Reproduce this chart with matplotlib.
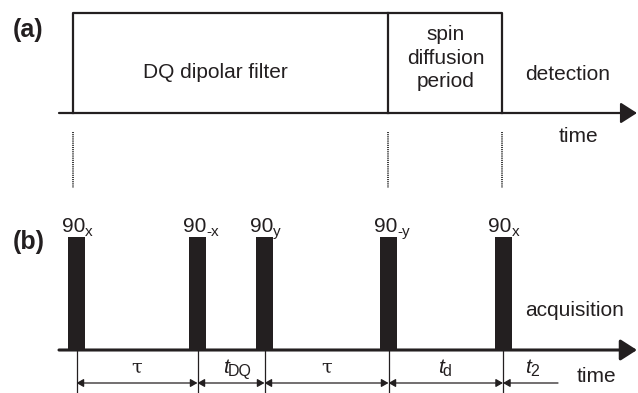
import matplotlib
matplotlib.use("Agg")
import matplotlib.pyplot as plt

plt.rcParams['font.family'] = ['Liberation Sans', 'DejaVu Sans']

INK = '#231f20'

# (a) period boundaries along the time axis
period_edges = [73, 388, 502]
period_labels = ['DQ dipolar filter', 'spin\ndiffusion\nperiod']
period_label_x = [215, 446]

# (b) pulse positions (centres) and phase subscripts
pulse_times = [76.5, 197.5, 264.5, 388.5, 503]
pulse_phases = ['x', '-x', 'y', '-y', 'x']
pulse_width = 17

# (b) delays between pulses: (main symbol, subscript)
delay_labels = [('τ', ''), ('t', 'DQ'), ('τ', ''), ('t', 'd')]
acq_end = 558

# vertical layout
a_top, a_base = 13, 113
b_top, b_base = 237, 350
dim_y = 383
axis_start, axis_end = 59, 637

fig = plt.figure(figsize=(6.38, 3.93), dpi=100)
ax = fig.add_axes([0, 0, 1, 1])
ax.set_xlim(0, 638)
ax.set_ylim(393, 0)
ax.axis('off')


def time_axis(y, lw):
    ax.annotate('', xy=(axis_end, y), xytext=(axis_start, y),
                arrowprops=dict(arrowstyle='-|>,head_length=0.5,head_width=0.32',
                                mutation_scale=20, lw=lw, color=INK,
                                shrinkA=0, shrinkB=0))


# ---- (a) block diagram ----
time_axis(a_base, 1.6)
ax.plot([period_edges[0], period_edges[0], period_edges[-1], period_edges[-1]],
        [a_base, a_top, a_top, a_base], color=INK, lw=1.6)
for xe in period_edges[1:-1]:
    ax.plot([xe, xe], [a_top, a_base], color=INK, lw=1.6)
for lab, xl in zip(period_labels, period_label_x):
    ax.text(xl, 58 if '\n' in lab else 72, lab, ha='center', va='center',
            fontsize=15, color=INK, linespacing=1.3)
ax.text(568, 74, 'detection', ha='center', va='center', fontsize=15, color=INK)
ax.text(578, 136, 'time', ha='center', va='center', fontsize=15, color=INK)

# dotted guides linking the two schemes
for xe in period_edges:
    ax.plot([xe, xe], [132, 188], color='#000000', lw=1.1, ls=(0, (0.7, 0.7)))

ax.text(13, 30, '(a)', ha='left', va='center', fontsize=18, fontweight='bold', color=INK)
ax.text(13, 242, '(b)', ha='left', va='center', fontsize=18, fontweight='bold', color=INK)

# ---- (b) pulse sequence ----
time_axis(b_base, 2.2)
for t, ph in zip(pulse_times, pulse_phases):
    ax.bar(t, b_base - b_top, width=pulse_width, bottom=b_top, color=INK,
           edgecolor='none', zorder=3)
    right = t + pulse_width / 2
    ax.text(right, 232, '90', ha='right', va='baseline', fontsize=15, color=INK)
    ax.text(right, 236, ph, ha='left', va='baseline', fontsize=11, color=INK)
    ax.plot([t, t], [b_base, 393], color=INK, lw=0.9)

ax.text(575, 310, 'acquisition', ha='center', va='center', fontsize=15, color=INK)
ax.text(596, 377, 'time', ha='center', va='center', fontsize=15, color=INK)

dim_style = dict(arrowstyle='<|-|>,head_length=0.35,head_width=0.2',
                 mutation_scale=12, lw=0.9, color=INK, shrinkA=0, shrinkB=0)
for (sym, sub), t0, t1 in zip(delay_labels, pulse_times[:-1], pulse_times[1:]):
    ax.annotate('', xy=(t1, dim_y), xytext=(t0, dim_y), arrowprops=dim_style)
    xm = (t0 + t1) / 2
    if sub:
        ax.text(xm - 2, 373, sym, ha='right', va='baseline', fontsize=15,
                style='italic', color=INK)
        ax.text(xm - 3, 376, sub, ha='left', va='baseline', fontsize=11.5, color=INK)
    else:
        ax.text(xm, 373, sym, ha='center', va='baseline', fontsize=14,
                family='DejaVu Serif', color=INK)

# acquisition window t2
ax.annotate('', xy=(pulse_times[-1], dim_y), xytext=(acq_end, dim_y),
            arrowprops=dict(dim_style, arrowstyle='-|>,head_length=0.35,head_width=0.2'))
ax.text(531, 373, 't', ha='right', va='baseline', fontsize=15, style='italic', color=INK)
ax.text(530, 376, '2', ha='left', va='baseline', fontsize=11.5, color=INK)

fig.savefig('out.png', dpi=100)
